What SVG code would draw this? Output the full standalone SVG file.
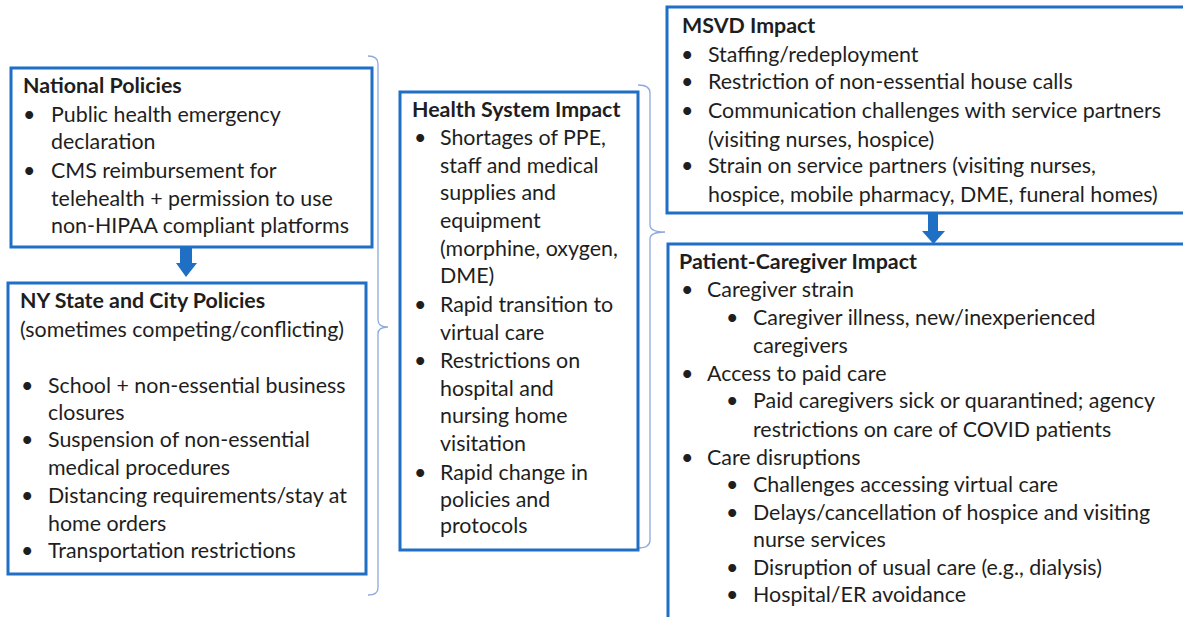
<svg xmlns="http://www.w3.org/2000/svg" width="1183" height="617" viewBox="0 0 1183 617">
<style>
.box{fill:#fff;stroke:#1f6fc5;stroke-width:3}
.brace{fill:none;stroke:#8eaadb;stroke-width:1.3}
.arr{fill:#1f6fc5}
text{font-family:Lato,"Liberation Sans",sans-serif;font-size:21.4px;fill:#1e1e1e}
.t{font-weight:bold}
</style>
<rect width="1183" height="617" fill="#fff"/>
<g id="connectors">
<path class="brace" d="M368,56 Q378,56 378,64 L378,320 Q378,327 388,327 Q378,327 378,334 L378,588 Q378,595 368,595"/>
<path class="brace" d="M638,85 Q650,85 650,93 L650,225 Q650,232 665,232 Q650,232 650,239 L650,540 Q650,548 638,548"/>
<path class="arr" d="M180,248 H192 V263 H197 L186,277 L176,263 H180 Z"/>
<path class="arr" d="M928,213 H938 V231 H945 L933.5,244 L922,231 H928 Z"/>
</g>
<g id="national">
<rect class="box" x="11" y="68" width="361" height="179"/>
<text class="t" x="23" y="93">National Policies</text>
<text x="23" y="122">•</text><text x="51" y="122">Public health emergency</text>
<text x="51" y="149">declaration</text>
<text x="23" y="178">•</text><text x="51" y="178">CMS reimbursement for</text>
<text x="51" y="206">telehealth + permission to use</text>
<text x="51" y="233">non-HIPAA compliant platforms</text>
</g>
<g id="nystate">
<rect class="box" x="8" y="283" width="358" height="291"/>
<text class="t" x="20" y="308">NY State and City Policies</text>
<text x="20" y="337">(sometimes competing/conflicting)</text>
<text x="21" y="393">•</text><text x="48" y="393">School + non-essential business</text>
<text x="48" y="420">closures</text>
<text x="21" y="447">•</text><text x="48" y="447">Suspension of non-essential</text>
<text x="48" y="475">medical procedures</text>
<text x="21" y="503">•</text><text x="48" y="503">Distancing requirements/stay at</text>
<text x="48" y="531">home orders</text>
<text x="21" y="558">•</text><text x="48" y="558">Transportation restrictions</text>
</g>
<g id="healthsystem">
<rect class="box" x="400" y="92" width="238" height="458"/>
<text class="t" x="412" y="117">Health System Impact</text>
<text x="414" y="145">•</text><text x="440" y="145">Shortages of PPE,</text>
<text x="440" y="173">staff and medical</text>
<text x="440" y="200">supplies and</text>
<text x="440" y="228">equipment</text>
<text x="440" y="256">(morphine, oxygen,</text>
<text x="440" y="283">DME)</text>
<text x="414" y="312">•</text><text x="440" y="312">Rapid transition to</text>
<text x="440" y="340">virtual care</text>
<text x="414" y="368">•</text><text x="440" y="368">Restrictions on</text>
<text x="440" y="396">hospital and</text>
<text x="440" y="423">nursing home</text>
<text x="440" y="451">visitation</text>
<text x="414" y="480">•</text><text x="440" y="480">Rapid change in</text>
<text x="440" y="507">policies and</text>
<text x="440" y="533">protocols</text>
</g>
<g id="msvd">
<rect class="box" x="667" y="7" width="530" height="206"/>
<text class="t" x="682" y="33">MSVD Impact</text>
<text x="681" y="62">•</text><text x="708" y="62">Staffing/redeployment</text>
<text x="681" y="89">•</text><text x="708" y="89">Restriction of non-essential house calls</text>
<text x="681" y="118">•</text><text x="708" y="118">Communication challenges with service partners</text>
<text x="708" y="147">(visiting nurses, hospice)</text>
<text x="681" y="173">•</text><text x="708" y="173">Strain on service partners (visiting nurses,</text>
<text x="708" y="202">hospice, mobile pharmacy, DME, funeral homes)</text>
</g>
<g id="patient">
<rect class="box" x="668" y="244" width="530" height="400"/>
<text class="t" x="679" y="269">Patient-Caregiver Impact</text>
<text x="681" y="297">•</text><text x="707" y="297">Caregiver strain</text>
<text x="726" y="325">•</text><text x="753" y="325">Caregiver illness, new/inexperienced</text>
<text x="753" y="353">caregivers</text>
<text x="681" y="381">•</text><text x="707" y="381">Access to paid care</text>
<text x="726" y="408">•</text><text x="753" y="408">Paid caregivers sick or quarantined; agency</text>
<text x="753" y="437">restrictions on care of COVID patients</text>
<text x="681" y="465">•</text><text x="707" y="465">Care disruptions</text>
<text x="726" y="492">•</text><text x="753" y="492">Challenges accessing virtual care</text>
<text x="726" y="520">•</text><text x="753" y="520">Delays/cancellation of hospice and visiting</text>
<text x="753" y="547">nurse services</text>
<text x="726" y="575">•</text><text x="753" y="575">Disruption of usual care (e.g.,  dialysis)</text>
<text x="726" y="602">•</text><text x="753" y="602">Hospital/ER avoidance</text>
</g>
</svg>
